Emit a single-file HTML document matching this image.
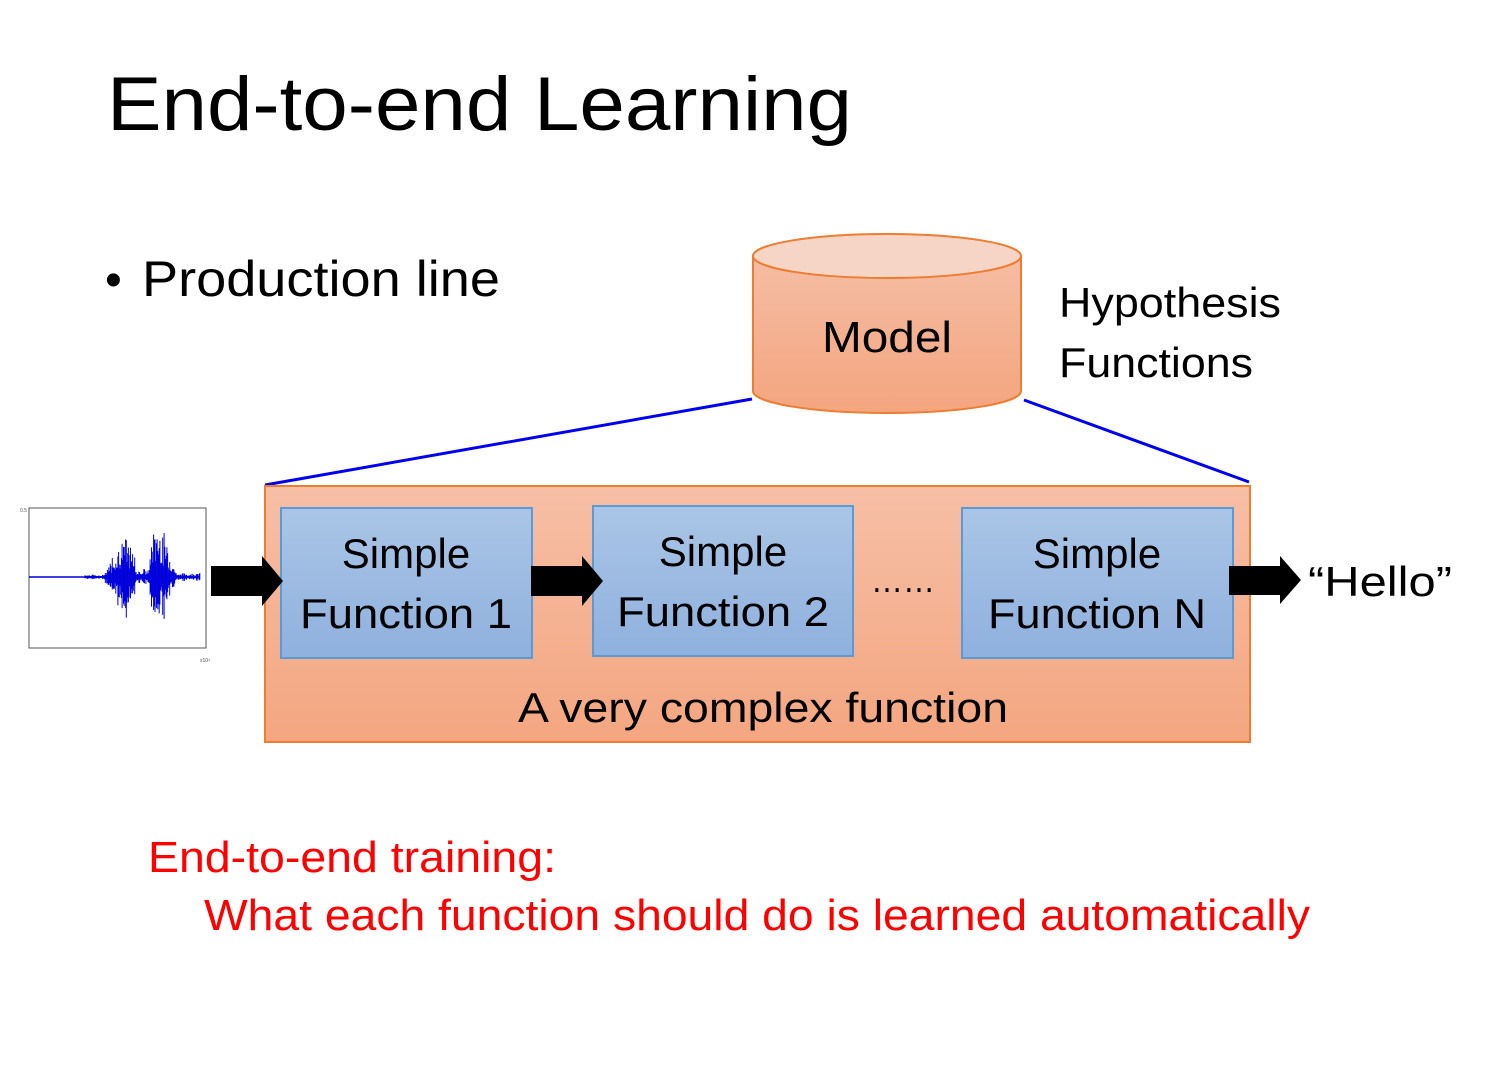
<!DOCTYPE html>
<html><head><meta charset="utf-8"><style>
html,body{margin:0;padding:0;background:#fff}
svg{display:block}
text{font-family:"Liberation Sans",sans-serif}
</style></head><body>
<svg width="1488" height="1066" viewBox="0 0 1488 1066" xmlns="http://www.w3.org/2000/svg">
<defs>
<linearGradient id="cyl" x1="0" y1="0" x2="0" y2="1"><stop offset="0" stop-color="#f5bda4"/><stop offset="1" stop-color="#f4a57f"/></linearGradient>
<linearGradient id="big" x1="0" y1="0" x2="0" y2="1"><stop offset="0" stop-color="#f6bfa6"/><stop offset="1" stop-color="#f4a680"/></linearGradient>
<linearGradient id="blue" x1="0" y1="0" x2="0" y2="1"><stop offset="0" stop-color="#aac5e6"/><stop offset="1" stop-color="#8fb1de"/></linearGradient>
</defs>
<text x="107" y="130" font-size="76" textLength="745" lengthAdjust="spacingAndGlyphs">End-to-end Learning</text>
<text x="105" y="296" font-size="48">•</text>
<text x="142" y="296" font-size="50" textLength="358" lengthAdjust="spacingAndGlyphs">Production line</text>
<path d="M753,256 L753,391 A134,22 0 0 0 1021,391 L1021,256 Z" fill="url(#cyl)" stroke="#ed7d31" stroke-width="2"/>
<ellipse cx="887" cy="256" rx="134" ry="22" fill="#f7d5c6" stroke="#ed7d31" stroke-width="2"/>
<text x="887" y="352" font-size="44" text-anchor="middle" textLength="130" lengthAdjust="spacingAndGlyphs">Model</text>
<text x="1059" y="317" font-size="42" textLength="222" lengthAdjust="spacingAndGlyphs">Hypothesis</text>
<text x="1059" y="377" font-size="42" textLength="194" lengthAdjust="spacingAndGlyphs">Functions</text>
<line x1="752" y1="399" x2="265" y2="485" stroke="#0000ee" stroke-width="3"/>
<line x1="1024" y1="400" x2="1249" y2="482" stroke="#0000ee" stroke-width="3"/>
<rect x="265" y="486" width="985" height="256" fill="url(#big)" stroke="#ed7d31" stroke-width="2"/>
<rect x="281" y="508" width="251" height="150" fill="url(#blue)" stroke="#5b9bd5" stroke-width="2"/>
<rect x="593" y="506" width="260" height="150" fill="url(#blue)" stroke="#5b9bd5" stroke-width="2"/>
<rect x="962" y="508" width="271" height="150" fill="url(#blue)" stroke="#5b9bd5" stroke-width="2"/>
<g font-size="42" text-anchor="middle">
<text x="406" y="568">Simple</text><text x="406" y="628" textLength="212" lengthAdjust="spacingAndGlyphs">Function 1</text>
<text x="723" y="566">Simple</text><text x="723" y="626" textLength="212" lengthAdjust="spacingAndGlyphs">Function 2</text>
<text x="1097" y="568">Simple</text><text x="1097" y="628" textLength="218" lengthAdjust="spacingAndGlyphs">Function N</text>
</g>
<text x="871" y="592" font-size="36" textLength="64" lengthAdjust="spacingAndGlyphs">……</text>
<text x="763" y="722" font-size="42" text-anchor="middle" textLength="490" lengthAdjust="spacingAndGlyphs">A very complex function</text>
<path d="M211,566 H262 V556 L283,581 L262,606 V596 H211 Z" fill="#000"/>
<path d="M531,566 H582 V556 L603,581 L582,606 V596 H531 Z" fill="#000"/>
<path d="M1229,566 H1280 V556 L1301,580 L1280,604 V595 H1229 Z" fill="#000"/>
<text x="1308" y="596" font-size="42" textLength="144" lengthAdjust="spacingAndGlyphs">“Hello”</text>
<rect x="29" y="508" width="177" height="140" fill="#fff" stroke="#555" stroke-width="1"/>
<g id="wave" stroke="#0000dd" stroke-width="1"></g>
<line x1="29" y1="577" x2="200" y2="577" stroke="#0000dd" stroke-width="1.5"/>
<text x="20" y="512" font-size="5" fill="#555">0.5</text>
<text x="200" y="662" font-size="5" fill="#555">x10⁴</text>
<text x="148" y="872" font-size="44" fill="#ff0000" textLength="408" lengthAdjust="spacingAndGlyphs">End-to-end training:</text>
<text x="204" y="930" font-size="44" fill="#ff0000" textLength="1106" lengthAdjust="spacingAndGlyphs">What each function should do is learned automatically</text>
</svg>
<script>
var g=document.getElementById('wave'),s='';var seed=7;function r(){seed=(seed*9301+49297)%233280;return seed/233280;}
for(var x=85;x<200;x+=0.7){var a=0;
if(x<95)a=3;else if(x<135)a=45*Math.max(0,1-Math.abs(x-124)/22);else if(x<150)a=8;else if(x<178)a=62*Math.max(0,1-Math.abs(x-158)/20);else a=4;
a=Math.max(a,2)*(0.3+0.7*r());var u=a*(0.6+0.5*r()),d=a*(0.6+0.5*r());
s+='<line x1="'+x+'" y1="'+(577-u)+'" x2="'+x+'" y2="'+(577+d)+'"/>';}
g.innerHTML=s;
</script>
</body></html>
